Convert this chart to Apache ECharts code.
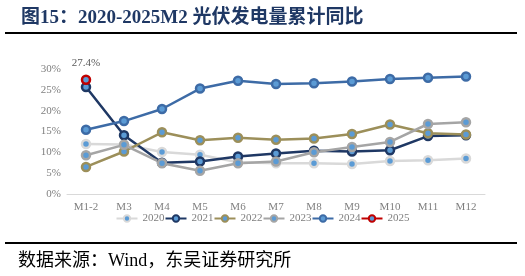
<!DOCTYPE html>
<html><head><meta charset="utf-8">
<script src="https://cdn.jsdelivr.net/npm/echarts@6/dist/echarts.min.js"></script>
<style>html,body{margin:0;padding:0;background:#fff}#c{width:525px;height:276px}</style>
</head><body><div id="c"></div>
<script>
const categories = ['M1-2','M3','M4','M5','M6','M7','M8','M9','M10','M11','M12'];
const s2020 = [12.0,11.9,10.1,9.4,7.6,7.4,7.4,7.2,7.9,8.1,8.5];
const s2021 = [25.7,14.1,7.5,7.8,9.0,9.7,10.4,10.2,10.5,13.9,14.1];
const s2022 = [6.5,10.2,14.8,12.9,13.5,13.0,13.3,14.4,16.7,14.6,14.3];
const s2023 = [9.3,11.8,7.4,5.6,7.4,7.8,10.0,11.3,12.5,16.8,17.2];
const s2024 = [15.4,17.5,20.4,25.3,27.2,26.4,26.6,27.0,27.6,27.9,28.2];
const s2025 = [27.4];
const yTicks = [0,5,10,15,20,25,30];

const serif = '"Liberation Serif","Times New Roman","Noto Sans CJK SC",serif';
const cfg = [
  ['2020', s2020, '#d9d9d9'],
  ['2021', s2021, '#1f3864'],
  ['2022', s2022, '#9c8f5a'],
  ['2023', s2023, '#a5a5a5'],
  ['2024', s2024, '#3d6ba6'],
  ['2025', s2025, '#c00000']
];
const chart = echarts.init(document.getElementById('c'));
chart.setOption({
  animation:false,
  title:{text:'图15：2020-2025M2 光伏发电量累计同比', left:16, top:4,
    textStyle:{fontFamily:serif, fontSize:19, fontWeight:'bold', color:'#1f3864'}},
  graphic:[
    {type:'rect', shape:{x:5,y:32,width:512,height:2}, style:{fill:'#000'}},
    {type:'rect', shape:{x:5,y:242,width:512,height:2}, style:{fill:'#000'}},
    {type:'text', left:18, top:252, style:{text:'数据来源：Wind，东吴证券研究所', font:'18px '+serif, fill:'#000'}}
  ],
  grid:{left:67, right:40, top:69, bottom:82},
  legend:{top:208, left:'center', itemWidth:21, itemHeight:8, itemGap:0,
    textStyle:{fontFamily:serif, fontSize:11, color:'#7f7f7f'},
    data:cfg.map(c=>c[0])},
  xAxis:{type:'category', data:categories, boundaryGap:true,
    axisLine:{lineStyle:{color:'#d9d9d9'}}, axisTick:{show:false},
    axisLabel:{fontFamily:serif, fontSize:11, color:'#7f7f7f', margin:8}},
  yAxis:{type:'value', min:yTicks[0], max:yTicks[yTicks.length-1], interval:5,
    axisLine:{show:false}, axisTick:{show:false}, splitLine:{show:false},
    axisLabel:{fontFamily:serif, fontSize:11, color:'#7f7f7f', formatter:'{value}%', margin:6}},
  series:cfg.map(c=>({
    name:c[0], type:'line', data:c[1], symbol:'circle', symbolSize:8,
    lineStyle:{color:c[2], width:2.5},
    itemStyle:{color:'#5b9bd5', borderColor:c[2], borderWidth:2.5},
    label: c[0]==='2025' ? {show:true, position:'top', formatter:'{c}%', fontFamily:serif, fontSize:11, color:'#595959', distance:6} : {show:false}
  }))
});
</script></body></html>
